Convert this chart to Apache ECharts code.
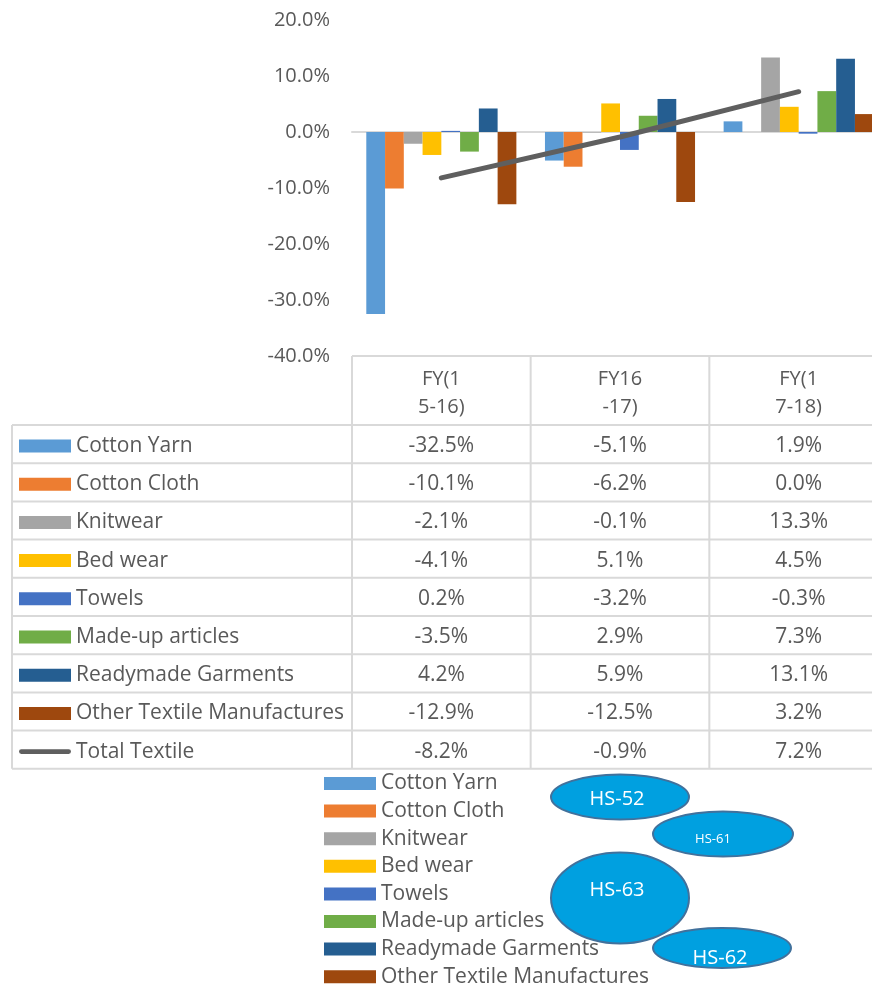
<!DOCTYPE html>
<html>
<head>
<meta charset="utf-8">
<script src="https://cdn.jsdelivr.net/npm/echarts@6/dist/echarts.min.js"></script>
<style>
  html, body { margin: 0; padding: 0; background: #fff; overflow: hidden; }
  #chart { width: 890px; height: 1010px; }
</style>
</head>
<body>
<div id="chart"></div>
<script>
// categories as shown (wrapped) in the data table header
const categories = ['FY(1\n5-16)', 'FY16\n-17)', 'FY(1\n7-18)'];

const cottonYarn = [-32.5, -5.1, 1.9];
const cottonCloth = [-10.1, -6.2, 0.0];
const knitwear = [-2.1, -0.1, 13.3];
const bedWear = [-4.1, 5.1, 4.5];
const towels = [0.2, -3.2, -0.3];
const madeUp = [-3.5, 2.9, 7.3];
const readymade = [4.2, 5.9, 13.1];
const otherTextile = [-12.9, -12.5, 3.2];
const totalTextile = [-8.2, -0.9, 7.2];

const barNames = ['Cotton Yarn', 'Cotton Cloth', 'Knitwear', 'Bed wear', 'Towels',
  'Made-up articles', 'Readymade Garments', 'Other Textile Manufactures'];
const barValues = [cottonYarn, cottonCloth, knitwear, bedWear, towels, madeUp, readymade, otherTextile];
const barColors = ['#5B9BD5', '#ED7D31', '#A5A5A5', '#FFC000', '#4472C4', '#70AD47', '#255E91', '#9E480E'];
const lineName = 'Total Textile';

const hsLabels = ['HS-52', 'HS-61', 'HS-63', 'HS-62'];

const FONT = '"Open Sans", sans-serif';
const TXT = '#595959';
const GRID_LINE = '#D9D9D9';
const LINE_COLOR = '#5F5F5F';

const chart = echarts.init(document.getElementById('chart'));

const series = barNames.map((name, i) => ({
  name: name,
  type: 'bar',
  data: barValues[i],
  barGap: 0,
  barCategoryGap: '16%',
  itemStyle: { color: barColors[i] }
}));
series.push({
  name: lineName,
  type: 'line',
  data: totalTextile,
  symbol: 'none',
  z: 5,
  itemStyle: { color: LINE_COLOR },
  lineStyle: { color: LINE_COLOR, width: 5, cap: 'round' }
});

const lineIcon = 'path://M2.5,0 L52.5,0 A2.5,2.5 0 0 1 52.5,5 L2.5,5 A2.5,2.5 0 0 1 2.5,0 Z';

const option = {
  animation: false,
  textStyle: { fontFamily: FONT },
  grid: { left: 352, top: 20, right: 2, bottom: 654 },
  xAxis: {
    type: 'category',
    data: categories,
    axisLine: { onZero: true, lineStyle: { color: GRID_LINE, width: 2 } },
    axisTick: { show: false },
    axisLabel: { show: false }
  },
  yAxis: {
    type: 'value',
    min: -40,
    max: 20,
    interval: 10,
    axisLine: { show: false },
    axisTick: { show: false },
    splitLine: { show: false },
    axisLabel: {
      color: TXT,
      fontSize: 20,
      fontFamily: FONT,
      margin: 22,
      formatter: v => v.toFixed(1) + '%'
    }
  },
  legend: [{
    orient: 'vertical',
    left: 19,
    top: 435.5,
    padding: 0,
    icon: 'rect',
    selectedMode: false,
    itemWidth: 52,
    itemHeight: 13,
    itemGap: 17.2,
    textStyle: { color: TXT, fontSize: 21, lineHeight: 21, fontFamily: FONT },
    data: barNames.map(n => ({ name: n })).concat([{ name: lineName, icon: lineIcon }])
  }, {
    orient: 'vertical',
    left: 324,
    top: 773,
    padding: 0,
    icon: 'rect',
    selectedMode: false,
    itemWidth: 52,
    itemHeight: 13,
    itemGap: 6.6,
    textStyle: { color: TXT, fontSize: 21, lineHeight: 21, fontFamily: FONT },
    data: barNames
  }],
  series: series
};

chart.setOption(option);

// data table under the plot, aligned to the category axis
const centers = categories.map((c, i) => chart.convertToPixel({ xAxisIndex: 0 }, i));
const band = centers[1] - centers[0];
const tableTop = chart.convertToPixel({ yAxisIndex: 0 }, -40);
const rowTop = 425;
const rowH = 38.2;
const allRows = barValues.concat([totalTextile]);
const rowBottom = rowTop + rowH * allRows.length;

const graphics = [];
const hLine = (x1, x2, y) => graphics.push({
  type: 'line', shape: { x1: x1, y1: y, x2: x2, y2: y },
  style: { stroke: GRID_LINE, lineWidth: 2 }, silent: true
});
const vLine = (x, y1, y2) => graphics.push({
  type: 'line', shape: { x1: x, y1: y1, x2: x, y2: y2 },
  style: { stroke: GRID_LINE, lineWidth: 2 }, silent: true
});
const txt = (s, x, y, size, color) => graphics.push({
  type: 'text', x: x, y: y, silent: true, z: 20,
  style: {
    text: s, fill: color || TXT, font: size + 'px ' + FONT,
    align: 'center', verticalAlign: 'middle',
    textAlign: 'center', textVerticalAlign: 'middle'
  }
});

hLine(centers[0] - band / 2, 900, tableTop);
for (let r = 0; r <= allRows.length; r++) hLine(12, 900, rowTop + r * rowH);
vLine(12, rowTop, rowBottom);
centers.forEach(c => vLine(c - band / 2, tableTop, rowBottom));
vLine(centers[2] + band / 2, tableTop, rowBottom);

categories.forEach((c, i) => {
  const parts = c.split('\n');
  txt(parts[0], centers[i], 379, 20);
  txt(parts[1], centers[i], 407, 20);
});
allRows.forEach((vals, r) => {
  vals.forEach((v, i) => {
    txt(v.toFixed(1) + '%', centers[i], rowTop + r * rowH + rowH / 2 + 2, 21);
  });
});

// HS callout ellipses
const ell = (cx, cy, rx, ry) => graphics.push({
  type: 'ellipse', shape: { cx: cx, cy: cy, rx: rx, ry: ry }, z: 30,
  style: { fill: '#00A0E0', stroke: '#41719C', lineWidth: 2 }
});
const ellText = (s, x, y, size) => graphics.push({
  type: 'text', x: x, y: y, z: 31,
  style: {
    text: s, fill: '#fff', font: size + 'px ' + FONT,
    align: 'center', verticalAlign: 'middle',
    textAlign: 'center', textVerticalAlign: 'middle'
  }
});
ell(620, 797, 69, 22.5); ellText(hsLabels[0], 617, 799, 20);
ell(723, 834, 70, 22.5); ellText(hsLabels[1], 713, 839, 13);
ell(620, 898, 69, 45.5); ellText(hsLabels[2], 617, 890, 20);
ell(722, 948, 69, 20); ellText(hsLabels[3], 720, 958, 20);

chart.setOption({ graphic: graphics });
</script>
</body>
</html>
